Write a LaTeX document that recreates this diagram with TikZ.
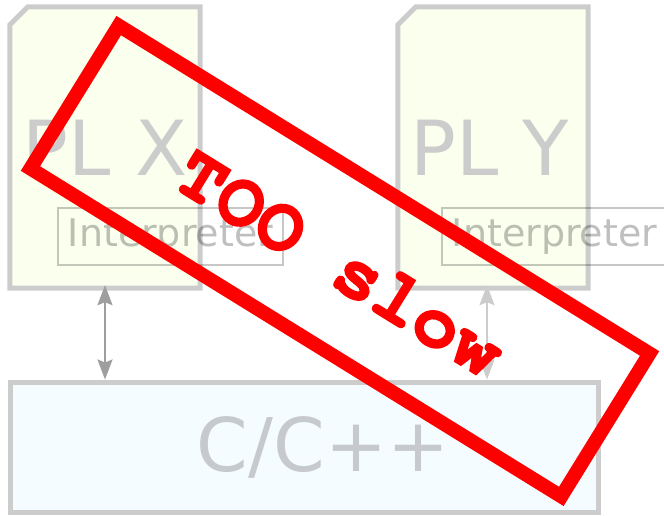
\documentclass[tikz,border=0pt]{standalone}
\usepackage{fontspec}
\setmainfont{DejaVu Sans}
\newfontfamily\stampfont{texgyrecursor}[Extension = .otf, UprightFont = *-regular, BoldFont = *-bold,
                                         BoldFeatures = {FakeBold = 2}]
\usetikzlibrary{arrows.meta}
\definecolor{plgray}{HTML}{CCCCCC}
\definecolor{plfill}{HTML}{FAFFEE}
\definecolor{cfill}{HTML}{F4FCFF}
\definecolor{ctext}{HTML}{C6CACE}
\definecolor{stampred}{HTML}{FF0000}
\begin{document}
\begin{tikzpicture}[x = 1pt, y = -1pt,
                    >={Stealth[length = 20pt, width = 15pt, inset = 3pt]},
                    plbox/.style = {rectangle, minimum width = 190pt, minimum height = 281pt},
                    plline/.style = {draw = plgray, fill = plfill, line width = 5pt},
                    pltext/.style = {text = plgray, font = \fontsize{76}{80}\selectfont},
                    cbox/.style = {rectangle, draw = plgray, fill = cfill, line width = 5pt,
                                   minimum width = 588pt, minimum height = 130pt},
                    interp/.style = {rectangle, draw = black, draw opacity = 0.22, line width = 2pt,
                                     text = black, text opacity = 0.25, inner sep = 0pt,
                                     minimum width = 225pt, minimum height = 57pt,
                                     font = \fontsize{38}{40}\selectfont},
                    link/.style = {<->, line width = 2pt, shorten < = -3pt},
                    stamp/.style = {rectangle, draw = stampred, line width = 14pt, rotate = -31.7,
                                    minimum width = 624pt, minimum height = 168pt},
                    stamptext/.style = {text = stampred, rotate = -31.7,
                                        font = \stampfont\bfseries\fontsize{77}{80}\selectfont}]
      \useasboundingbox (0, 0) rectangle (664, 516);
      \node [plbox] (plx) at (105, 147.5){};
      \node [plbox] (ply) at (493, 147.5){};
      % cut top-left corners
      \foreach \pl in {plx, ply}
        \draw [plline] ([yshift = -18pt]\pl.north west) -- ([xshift = 18pt]\pl.north west)
                       -- (\pl.north east) -- (\pl.south east) -- (\pl.south west) -- cycle;
      \node [pltext] (plxlabel) at (plx.center){PL X};
      \node [pltext] (plylabel) at ([xshift = -3pt]ply.center){PL Y};
      \node [cbox] (cpp) at (304, 447){};
      \node [text = ctext, font = \fontsize{74}{78}\selectfont] (cpplabel) at (323, 447){C/C++};
      \draw [link, draw = black!38, fill = black!38] (plx.south) -- (plx.south |- cpp.north);
      \draw [link, draw = plgray, fill = plgray] ([xshift = -6pt]ply.south) -- ([xshift = -6pt]ply.south |- cpp.north);
      \node [interp] (intx) at (170.5, 236.5){Interpreter};
      \node [interp] (inty) at (554.5, 236.5){Interpreter};
      \node [stamp] (slow) at (340, 261){};
      \node [stamptext] (slowlabel) at (340, 263){TOO slow};
    \end{tikzpicture}
\end{document}
